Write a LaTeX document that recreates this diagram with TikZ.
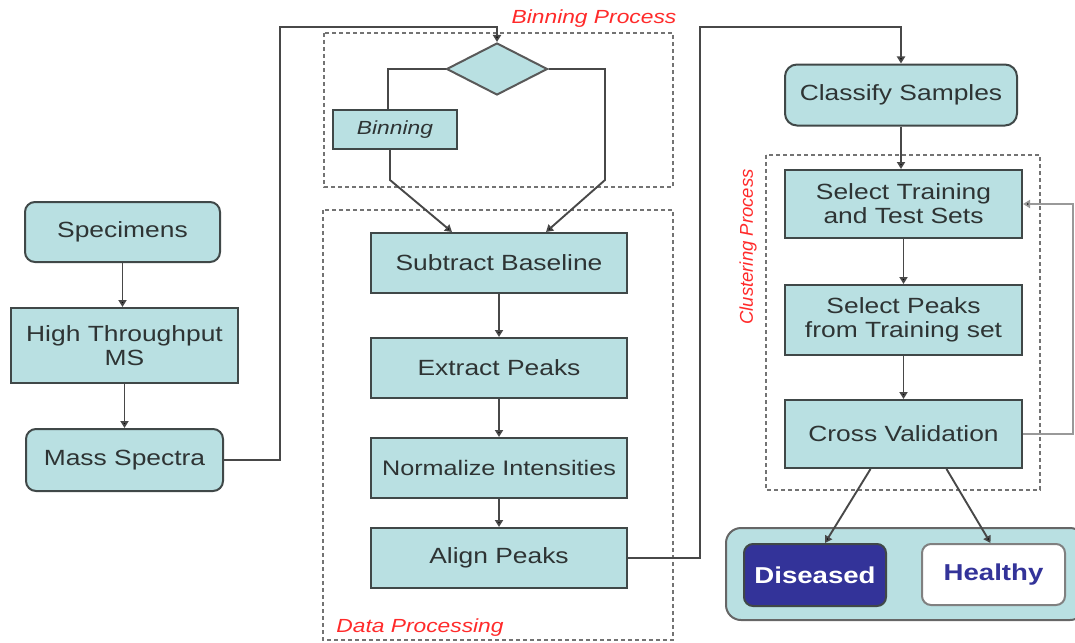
\documentclass[tikz,border=0pt]{standalone}
\usepackage{fontspec}
\setmainfont{Liberation Sans}[FakeStretch=1.2]
\newfontfamily\plainsans{Liberation Sans}
\usetikzlibrary{shapes.geometric,arrows.meta}
\definecolor{boxfill}{HTML}{B9E0E2}
\definecolor{boxline}{HTML}{404848}
\definecolor{connline}{HTML}{484848}
\definecolor{lblred}{HTML}{FF2A2A}
\definecolor{navy}{HTML}{333399}
\definecolor{txt}{HTML}{2E3434}
\begin{document}
\begin{tikzpicture}[x=1pt,y=-1pt,
  box/.style={draw=boxline, line width=2pt, fill=boxfill, inner sep=0pt, text=txt, align=center, font=\fontsize{22}{24}\selectfont},
  rbox/.style={box, rounded corners=10pt},
  conn/.style={draw=connline, line width=1.9pt},
  arr/.style={conn, -{Triangle[length=7pt,width=8pt,fill=black]}},
  group/.style={draw=gray!90!black, line width=1.4pt, dash pattern=on 4pt off 3pt},
  lbl/.style={text=lblred, font=\fontsize{19}{22}\selectfont\itshape, inner sep=0pt}
]
\useasboundingbox (0,0) rectangle (1075,642);
\clip (0,0) rectangle (1075,642);

% group frames
\draw[group] (324,33) rectangle (673,187);
\draw[group] (323,210) rectangle (673,640);
\draw[group] (766,155) rectangle (1040,490);
\node[lbl] (lbin) at (594,19) {Binning Process};
\node[lbl] (ldp) at (420,628) {Data Processing};
\node[lbl, font=\fontsize{18.5}{22}\selectfont\plainsans\itshape, rotate=90] (lcl) at (748,247) {Clustering Process};

% left column
\node[rbox, minimum width=195pt, minimum height=60pt] (spec) at (122.5,232) {Specimens};
\node[box, minimum width=227pt, minimum height=75pt] (htms) at (124.5,345.5) {High Throughput\\MS};
\node[rbox, minimum width=197pt, minimum height=62pt] (ms) at (124.5,460) {Mass Spectra};

% binning
\node[draw=gray!70!black, line width=2pt, fill=boxfill, shape=diamond, inner sep=0pt, minimum width=101pt, minimum height=52pt] (dia) at (497,69) {};
\node[box, minimum width=124pt, minimum height=39pt, font=\fontsize{19}{22}\selectfont\itshape] (bin) at (395,129.5) {Binning};

% data processing
\node[box, minimum width=256pt, minimum height=60pt] (sb) at (499,263) {Subtract Baseline};
\node[box, minimum width=256pt, minimum height=60pt] (ep) at (499,368) {Extract Peaks};
\node[box, minimum width=256pt, minimum height=60pt, font=\fontsize{21}{24}\selectfont] (ni) at (499,468) {Normalize Intensities};
\node[box, minimum width=256pt, minimum height=60pt] (ap) at (499,558) {Align Peaks};

% right column
\node[rbox, rounded corners=12pt, minimum width=232pt, minimum height=61pt] (cs) at (901,95) {Classify Samples};
\node[box, minimum width=237pt, minimum height=68pt] (st) at (903.5,204) {Select Training\\and Test Sets};
\node[box, minimum width=237pt, minimum height=70pt] (sp) at (903.5,320) {Select Peaks\\from Training set};
\node[box, minimum width=237pt, minimum height=68pt] (cv) at (903.5,434) {Cross Validation};

% outcome container
\node[draw=gray!80!black, line width=2pt, fill=boxfill, rounded corners=15pt, minimum width=359pt, minimum height=92pt, inner sep=0pt] (out) at (905.5,574) {};
\node[draw=boxline, line width=2pt, fill=navy, rounded corners=9pt, minimum width=142pt, minimum height=62pt, inner sep=0pt, text=white, font=\fontsize{23}{26}\selectfont\bfseries] (dis) at (815,575) {Diseased};
\node[draw=gray, line width=2pt, fill=white, rounded corners=9pt, minimum width=143pt, minimum height=61pt, inner sep=0pt, text=navy, font=\fontsize{23}{26}\selectfont\bfseries] (hea) at (993.5,574.5) {Healthy};

% helper coordinates
\coordinate (c1) at (280,27);
\coordinate (c2) at (700,27);
\coordinate (c3) at (605,180);
\coordinate (c4) at (390,180);
\coordinate (c5) at (1073,0);

% connectors
\draw[arr] (spec.south) -- (spec.south |- htms.north);
\draw[arr] (htms.south) -- (htms.south |- ms.north);
\draw[arr] (ms.east) -| (c1) -| (dia.north);
\draw[conn] (dia.west) -| ([xshift=-7pt]bin.north);
\draw[arr] (bin.south -| c4) -- (c4) -- ([xshift=-47pt]sb.north);
\draw[arr] (dia.east) -| (c3) -- ([xshift=47pt]sb.north);
\draw[arr] (sb.south) -- (ep.north);
\draw[arr] (ep.south) -- (ni.north);
\draw[arr] (ni.south) -- (ap.north);
\draw[arr] (ap.east) -| (c2) -| (cs.north);
\draw[arr] (cs.south) -- (cs.south |- st.north);
\draw[arr] (st.south) -- (sp.north);
\draw[arr] (sp.south) -- (cv.north);
\draw[arr, draw=gray!80] (cv.east) -- (cv.east -| c5) |- (st.east);
\draw[arr] ([xshift=-33pt]cv.south) -- ([xshift=10pt]dis.north);
\draw[arr] ([xshift=43pt]cv.south) -- ([xshift=-3pt]hea.north);
\end{tikzpicture}
\end{document}
